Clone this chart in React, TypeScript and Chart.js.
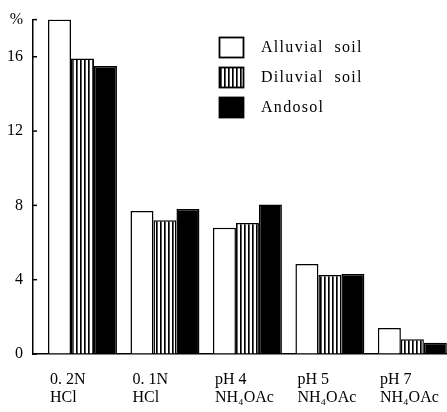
import React, { useEffect, useRef } from 'react';
import { Chart, registerables } from 'chart.js';

Chart.register(...registerables);

const categories: string[][] = [
  ['0. 2N', 'HCl'],
  ['0. 1N', 'HCl'],
  ['pH 4', 'NH₄OAc'],
  ['pH 5', 'NH₄OAc'],
  ['pH 7', 'NH₄OAc'],
];
const seriesNames = ['Alluvial  soil', 'Diluvial  soil', 'Andosol'];
const alluvial = [18.0, 7.7, 6.8, 4.85, 1.4];
const diluvial = [15.9, 7.2, 7.05, 4.25, 0.8];
const andosol = [15.5, 7.8, 8.05, 4.3, 0.6];
const yTicks = [0, 4, 8, 12, 16, 18];
const yTickLabels = ['0', '4', '8', '12', '16', '%'];

const FONT = '"Liberation Serif", "Times New Roman", serif';

function makeStripe(ctx: CanvasRenderingContext2D): CanvasPattern | string {
  const c = document.createElement('canvas');
  c.width = 4;
  c.height = 4;
  const g = c.getContext('2d');
  if (!g) return '#888';
  g.fillStyle = '#fff';
  g.fillRect(0, 0, 4, 4);
  g.fillStyle = '#000';
  g.fillRect(0, 0, 1, 4);
  g.fillStyle = '#555';
  g.fillRect(1, 0, 1, 4);
  return ctx.createPattern(c, 'repeat') || '#888';
}

export default function App() {
  const ref = useRef<HTMLCanvasElement | null>(null);

  useEffect(() => {
    const canvas = ref.current;
    if (!canvas) return;
    const ctx = canvas.getContext('2d');
    if (!ctx) return;
    const stripe = makeStripe(ctx);
    const fills: any[] = ['#ffffff', stripe, '#000000'];
    const series = [alluvial, diluvial, andosol];

    const overlay = {
      id: 'overlay',
      afterDraw(chart: any) {
        const c = chart.ctx as CanvasRenderingContext2D;
        const yScale = chart.scales.y;
        const area = chart.chartArea;
        c.save();
        c.strokeStyle = '#000';
        c.lineWidth = 1.5;
        yTicks.forEach((v) => {
          const y = yScale.getPixelForValue(v);
          c.beginPath();
          c.moveTo(area.left, y);
          c.lineTo(area.left + 4, y);
          c.stroke();
        });
        const meta = chart.getDatasetMeta(0);
        c.fillStyle = '#000';
        c.font = `16px ${FONT}`;
        c.textAlign = 'left';
        c.textBaseline = 'middle';
        categories.forEach((lines, i) => {
          const bar = meta.data[i];
          if (!bar) return;
          const x0 = bar.x - bar.width / 2 + 2;
          lines.forEach((ln, j) => {
            c.fillText(ln, x0, area.bottom + 26 + j * 18);
          });
        });
        const lx = 219.5;
        const ly = [37.5, 67.5, 97.5];
        seriesNames.forEach((name, i) => {
          c.fillStyle = fills[i];
          c.fillRect(lx, ly[i], 24, 20);
          c.strokeStyle = '#000';
          c.lineWidth = 1.8;
          c.strokeRect(lx, ly[i], 24, 20);
          c.fillStyle = '#000';
          c.font = `16px ${FONT}`;
          (c as any).letterSpacing = '1.3px';
          c.textBaseline = 'middle';
          c.fillText(name, 261, ly[i] + 10.5);
          (c as any).letterSpacing = '0px';
        });
        c.restore();
      },
    };

    const chart = new Chart(ctx, {
      type: 'bar',
      data: {
        datasets: series.map((vals, k) => ({
          label: seriesNames[k],
          data: vals.map((v, i) => ({ x: i, y: v })),
          backgroundColor: fills[k],
          borderColor: '#000',
          borderWidth: 1.5,
          borderSkipped: 'bottom',
          categoryPercentage: 0.836,
          barPercentage: 1,
        })),
      },
      options: {
        responsive: false,
        animation: false,
        layout: { padding: { top: 15, right: 0, left: 0, bottom: 0 } },
        plugins: { legend: { display: false }, tooltip: { enabled: false } },
        scales: {
          x: {
            type: 'linear',
            offset: false,
            bounds: 'data',
            min: -0.6,
            max: 4.42,
            afterBuildTicks: (s: any) => {
              s.ticks = categories.map((_, i) => ({ value: i }));
            },
            afterFit: (s: any) => {
              s.height = 58;
            },
            ticks: { display: false },
            grid: { display: true, offset: false, drawOnChartArea: false, drawTicks: false },
            border: { display: true, color: '#000', width: 1.5 },
          },
          y: {
            min: 0,
            max: 18,
            afterBuildTicks: (s: any) => {
              s.ticks = yTicks.map((v) => ({ value: v }));
            },
            afterFit: (s: any) => {
              s.width = 33;
            },
            ticks: {
              color: '#000',
              padding: 10,
              font: { family: FONT, size: 16 },
              callback: (v: any) => {
                const idx = yTicks.indexOf(Number(v));
                return idx >= 0 ? yTickLabels[idx] : '';
              },
            },
            grid: { display: true, drawOnChartArea: false, drawTicks: false },
            border: { display: true, color: '#000', width: 1.5 },
          },
        },
      },
      plugins: [overlay],
    } as any);

    return () => chart.destroy();
  }, []);

  return (
    <div style={{ position: 'absolute', left: 0, top: 0, width: 447, height: 412, background: '#fff' }}>
      <canvas ref={ref} width={447} height={412} />
    </div>
  );
}
